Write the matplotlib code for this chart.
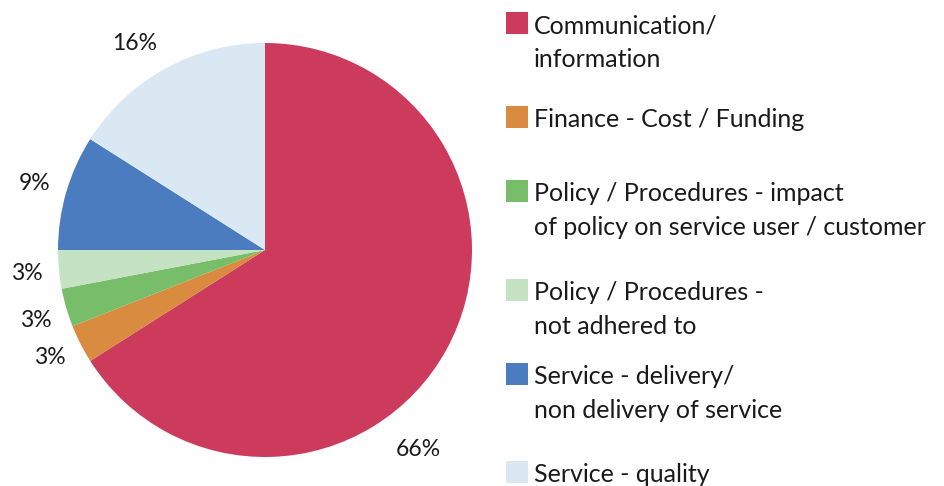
import matplotlib
matplotlib.use("Agg")
import matplotlib.pyplot as plt
from matplotlib.patches import Rectangle

# data
categories = [
    "Communication/\ninformation",
    "Finance - Cost / Funding",
    "Policy / Procedures - impact\nof policy on service user / customer",
    "Policy / Procedures -\nnot adhered to",
    "Service - delivery/\nnon delivery of service",
    "Service - quality",
]
values = [66, 3, 3, 3, 9, 16]
colors = ["#CC3A5C", "#D98B3F", "#78BE6A", "#C5E3C3", "#4A7CBF", "#D9E8F3"]

# label positions (pixels, origin top-left)
label_pos = [(418, 449), (50, 357), (36, 320), (27, 273), (35, 183), (135, 44)]
legend_top = [12, 106, 180, 279, 363, 461]

W, H = 945, 486
fig = plt.figure(figsize=(W / 100, H / 100), dpi=100)
ax = fig.add_axes([0, 0, 1, 1])
ax.set_xlim(0, W)
ax.set_ylim(H, 0)
ax.axis("off")

# pie in its own axes (y up) so direction is clockwise from top
pax = fig.add_axes([0, 0, 1, 1])
pax.pie(values, colors=colors, startangle=90, counterclock=False,
        center=(265, H - 250), radius=207, wedgeprops=dict(linewidth=0),
        frame=True)
pax.set_xlim(0, W)
pax.set_ylim(0, H)
pax.set_aspect("equal")
pax.axis("off")

font = "Lato"
for v, (x, y) in zip(values, label_pos):
    ax.text(x, y, f"{v}%", ha="center", va="center", fontsize=16.5, family=font, color="#1a1a1a")

for cat, col, top in zip(categories, colors, legend_top):
    ax.add_patch(Rectangle((506, top), 22, 22, facecolor=col, edgecolor="none"))
    ax.text(534, top + 2, cat, ha="left", va="top", fontsize=18, family=font,
            color="#1a1a1a", linespacing=1.6)

fig.savefig("out.png", dpi=100)
